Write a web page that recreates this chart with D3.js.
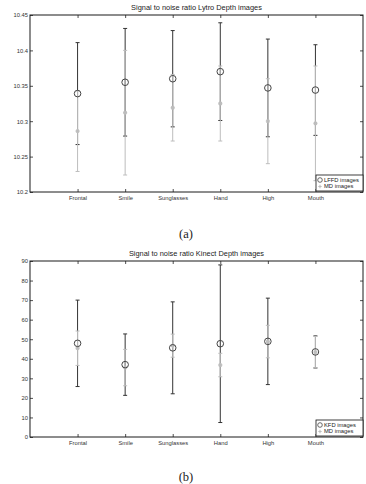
<!DOCTYPE html>
<html>
<head>
<meta charset="utf-8">
<script src="https://cdn.jsdelivr.net/npm/d3@7"></script>
<style>
  body { margin: 0; background: #fff; }
  svg { display: block; }
</style>
</head>
<body>
<div id="chart"></div>
<script>
const categories = ["Frontal", "Smile", "Sunglasses", "Hand", "High", "Mouth"]

// (a) Lytro
const lytroLffdMean = [10.339, 10.355, 10.360, 10.370, 10.347, 10.344]
const lytroLffdErr = [0.072, 0.076, 0.068, 0.069, 0.069, 0.064]
const lytroMdMean = [10.286, 10.312, 10.319, 10.325, 10.300, 10.297]
const lytroMdErr = [0.057, 0.088, 0.047, 0.053, 0.060, 0.081]
const lytroTicks = [10.2, 10.25, 10.3, 10.35, 10.4, 10.45]

// (b) Kinect
const kinectKfdMean = [47.9, 37.0, 45.6, 47.7, 48.9, 43.5]
const kinectKfdErr = [22.1, 15.7, 23.5, 40.3, 22.1, 8.2]
const kinectMdMean = [45.4, 35.5, 46.7, 36.8, 48.8, 43.4]
const kinectMdErr = [8.8, 9.3, 5.9, 6.0, 8.3, 8.0]
const kinectTicks = [0, 10, 20, 30, 40, 50, 60, 70, 80, 90]

const width = 366
const height = 484
const dark = "#333"
const light = "#bdbdbd"
const font = "'Liberation Sans', Arial, sans-serif"

const svg = d3.select("#chart")
  .append("svg")
    .attr("width", width)
    .attr("height", height)

function drawPanel(opts) {
  const { top, bottom, left, right, domain, ticks, title, caption, captionY,
          mainMean, mainErr, mdMean, mdErr, mainLabel, id } = opts

  const x = d3.scaleLinear().domain([0, categories.length + 1]).range([left, right])
  const y = d3.scaleLinear().domain(domain).range([bottom, top])

  const g = svg.append("g")

  g.append("clipPath").attr("id", id)
    .append("rect")
      .attr("x", left).attr("y", top)
      .attr("width", right - left).attr("height", bottom - top)

  // axes (inward ticks on all four sides)
  const fmt = d => String(+d.toFixed(2))
  g.append("g")
    .attr("transform", `translate(${left},0)`)
    .call(d3.axisLeft(y).tickValues(ticks).tickSize(-3).tickPadding(2).tickFormat(fmt))
  g.append("g")
    .attr("transform", `translate(${right},0)`)
    .call(d3.axisRight(y).tickValues(ticks).tickSize(-3).tickFormat(""))
  g.append("g")
    .attr("transform", `translate(0,${bottom})`)
    .call(d3.axisBottom(x).tickValues(d3.range(1, categories.length + 1)).tickSize(-3).tickPadding(4)
      .tickFormat(i => categories[i - 1]))
  g.append("g")
    .attr("transform", `translate(0,${top})`)
    .call(d3.axisTop(x).tickValues(d3.range(1, categories.length + 1)).tickSize(-3).tickFormat(""))

  g.selectAll(".domain").remove()
  g.selectAll(".tick line").attr("stroke", "#222").attr("stroke-width", 0.8)
  g.selectAll(".tick text")
    .attr("fill", "#333")
    .style("font-family", font)
    .style("font-size", "5.8px")

  g.append("rect")
    .attr("x", left).attr("y", top)
    .attr("width", right - left).attr("height", bottom - top)
    .attr("fill", "none")
    .attr("stroke", "#1a1a1a")
    .attr("stroke-width", 1)

  const plot = g.append("g").attr("clip-path", `url(#${id})`)

  function errorBars(mean, err, color) {
    const rows = categories.map((c, i) => ({ i: i + 1, m: mean[i], e: err[i] }))
    const bar = plot.append("g").selectAll("g").data(rows).join("g")
      .attr("stroke", color).attr("stroke-width", 1).attr("fill", "none")
    bar.append("line")
      .attr("x1", d => x(d.i)).attr("x2", d => x(d.i))
      .attr("y1", d => y(d.m - d.e)).attr("y2", d => y(d.m + d.e))
    bar.append("line")
      .attr("x1", d => x(d.i) - 2).attr("x2", d => x(d.i) + 2)
      .attr("y1", d => y(d.m + d.e)).attr("y2", d => y(d.m + d.e))
    bar.append("line")
      .attr("x1", d => x(d.i) - 2).attr("x2", d => x(d.i) + 2)
      .attr("y1", d => y(d.m - d.e)).attr("y2", d => y(d.m - d.e))
    return rows
  }

  const mainRows = errorBars(mainMean, mainErr, dark)
  const mdRows = errorBars(mdMean, mdErr, light)

  const star = d3.symbol().type(d3.symbolCross).size(9)
  plot.append("g").selectAll("path").data(mdRows).join("path")
    .attr("transform", d => `translate(${x(d.i)},${y(d.m)}) rotate(45)`)
    .attr("d", star)
    .attr("fill", light)
  plot.append("g").selectAll("path.plus").data(mdRows).join("path")
    .attr("transform", d => `translate(${x(d.i)},${y(d.m)})`)
    .attr("d", star)
    .attr("fill", light)

  plot.append("g").selectAll("circle").data(mainRows).join("circle")
    .attr("cx", d => x(d.i)).attr("cy", d => y(d.m))
    .attr("r", 3.3)
    .attr("fill", "none")
    .attr("stroke", "#444")
    .attr("stroke-width", 1)

  // title
  g.append("text")
    .attr("x", (left + right) / 2).attr("y", top - 5)
    .attr("text-anchor", "middle")
    .attr("fill", "#222")
    .style("font-family", font)
    .style("font-size", "7.4px")
    .text(title)

  // legend
  const lx = right - 47, ly = bottom - 17
  const leg = g.append("g")
  leg.append("rect")
    .attr("x", lx).attr("y", ly).attr("width", 47).attr("height", 16)
    .attr("fill", "#fff").attr("stroke", "#111").attr("stroke-width", 0.8)
  leg.append("circle")
    .attr("cx", lx + 4).attr("cy", ly + 5)
    .attr("r", 2.3).attr("fill", "none").attr("stroke", "#444").attr("stroke-width", 0.8)
  leg.append("path")
    .attr("transform", `translate(${lx + 4},${ly + 11.5})`)
    .attr("d", d3.symbol().type(d3.symbolCross).size(6))
    .attr("fill", light)
  leg.selectAll("text").data([mainLabel, "MD images"]).join("text")
    .attr("x", lx + 8)
    .attr("y", (d, i) => ly + 7 + i * 6.3)
    .attr("fill", "#222")
    .style("font-family", font)
    .style("font-size", "5.8px")
    .text(d => d)

  // caption
  g.append("text")
    .attr("x", 186).attr("y", captionY)
    .attr("text-anchor", "middle")
    .attr("fill", "#222")
    .style("font-family", "'Liberation Serif', 'DejaVu Serif', serif")
    .style("font-size", "12.5px")
    .text(caption)
}

drawPanel({
  id: "clipA", top: 15, bottom: 192, left: 30, right: 363,
  domain: [10.2, 10.45], ticks: lytroTicks,
  title: "Signal to noise ratio Lytro Depth images",
  caption: "(a)", captionY: 238,
  mainMean: lytroLffdMean, mainErr: lytroLffdErr,
  mdMean: lytroMdMean, mdErr: lytroMdErr,
  mainLabel: "LFFD images"
})

drawPanel({
  id: "clipB", top: 261, bottom: 437, left: 30, right: 363,
  domain: [0, 90], ticks: kinectTicks,
  title: "Signal to noise ratio Kinect Depth images",
  caption: "(b)", captionY: 481,
  mainMean: kinectKfdMean, mainErr: kinectKfdErr,
  mdMean: kinectMdMean, mdErr: kinectMdErr,
  mainLabel: "KFD images"
})
</script>
</body>
</html>
